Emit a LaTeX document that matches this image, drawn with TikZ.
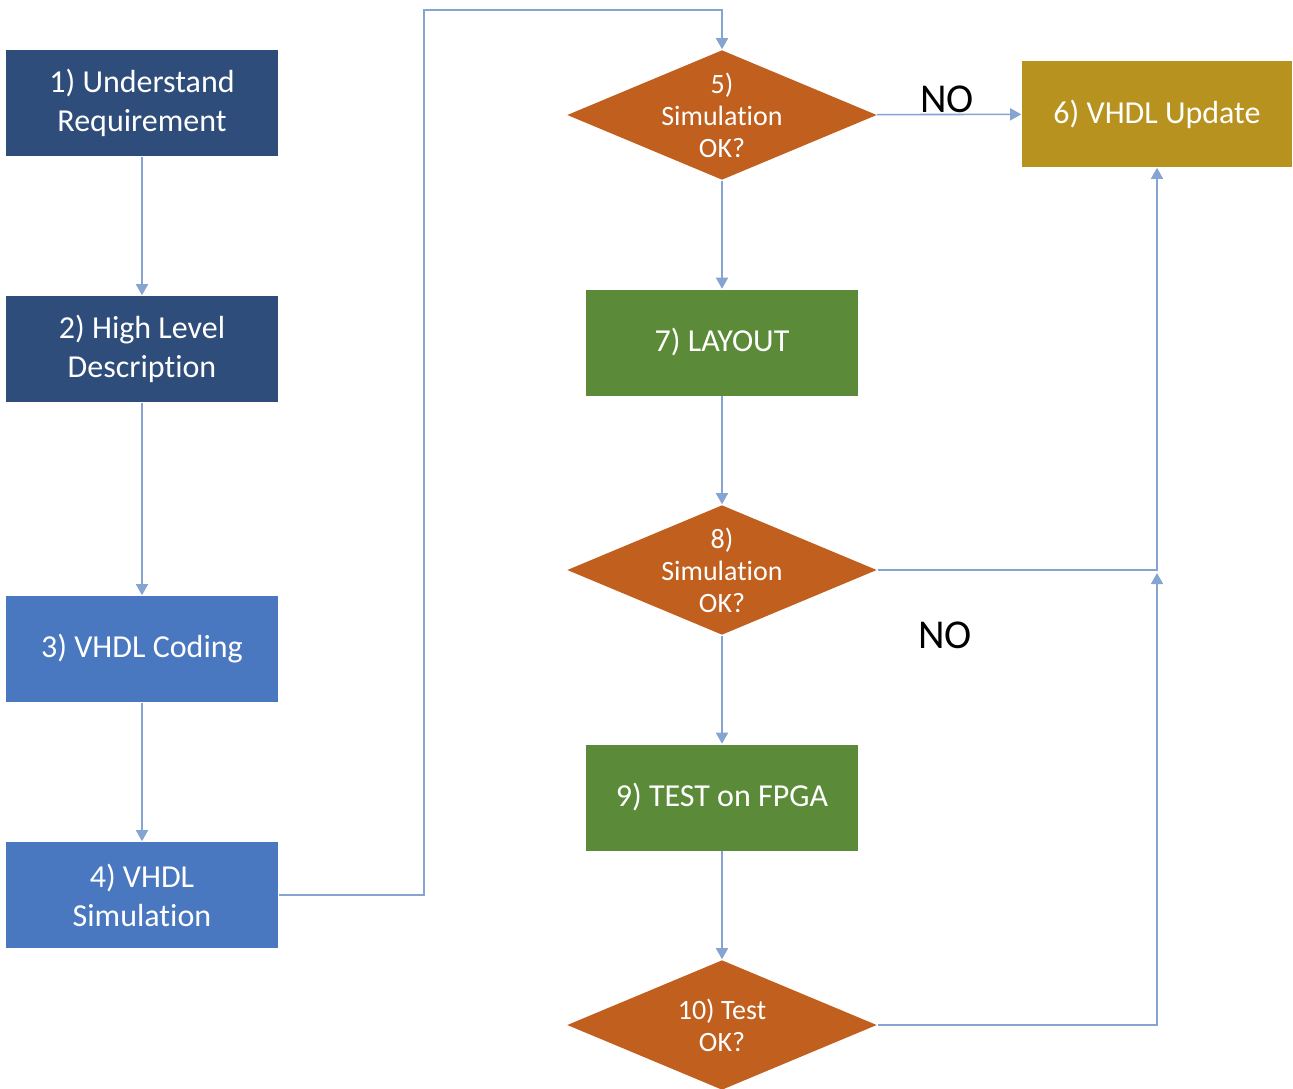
\documentclass[tikz,border=0pt]{standalone}
\usepackage{fontspec}
\setmainfont{Carlito}[Ligatures=NoCommon]
\usetikzlibrary{arrows.meta,shapes.geometric,positioning}
\definecolor{navy}{HTML}{2F4D7A}
\definecolor{stepblue}{HTML}{4A78C0}
\definecolor{decorange}{HTML}{C05F1E}
\definecolor{updgold}{HTML}{B8921F}
\definecolor{stepgreen}{HTML}{5B8B38}
\definecolor{wire}{HTML}{86A4D2}

\begin{document}
\begin{tikzpicture}[x=1pt,y=1pt,->,>={Triangle[length=11pt,width=12pt]},
        line width=1.6pt,node distance=227.5pt,
        box/.style={rectangle,draw=none,text=white,align=center,
            minimum width=272pt,minimum height=106pt,inner sep=0pt,
            font=\fontsize{32}{39}\selectfont},
        decision/.style={diamond,fill=decorange,text=white,align=center,
            aspect=2.4,inner sep=-20pt,minimum width=310pt,minimum height=130pt,
            font=\fontsize{28}{32}\selectfont},
        nolabel/.style={text=black,font=\fontsize{41}{44}\selectfont}]

    \useasboundingbox (0,0) rectangle (1293,-1088);

    % left column
    \node[box,fill=navy] (1) at (142,-103) {1) Understand\\Requirement};
    \node[box,fill=navy] (2) [below of=1,node distance=246pt] {2) High Level\\Description};
    \node[box,fill=stepblue] (3) [below of=2,node distance=300pt] {3) VHDL Coding};
    \node[box,fill=stepblue] (4) [below of=3,node distance=246pt] {4) VHDL\\Simulation};

    % middle column
    \node[decision] (5) at (722,-115) {5)\\Simulation\\OK?};
    \node[box,fill=stepgreen] (7) [below of=5] {7) LAYOUT};
    \node[decision] (8) [below of=7] {8)\\Simulation\\OK?};
    \node[box,fill=stepgreen] (9) [below of=8] {9) TEST on FPGA};
    \node[decision] (10) [below of=9] {10) Test\\OK?};

    \node[box,fill=updgold,minimum width=270pt] (6) at (1157,-114) {6) VHDL Update};

    \coordinate (top) at (424,-10);
    \coordinate (join) at (1157,-573);

    \draw[wire] (1) -- (2);
    \draw[wire] (2) -- (3);
    \draw[wire] (3) -- (4);
    \draw[wire] (4.east) -| (top) -| (5.north);
    \draw[wire] (5) -- node[nolabel,above,inner sep=1pt,xshift=-2pt] {NO} (6);
    \draw[wire] (5) -- (7);
    \draw[wire] (7) -- (8);
    \draw[wire] (8) -- (9);
    \draw[wire] (9) -- (10);
    \draw[wire] (8.east) -| (6.south);
    \draw[wire] (10.east) -| (join);

    \node[nolabel] (no2) at (945,-635) {NO};

    \end{tikzpicture}
\end{document}
